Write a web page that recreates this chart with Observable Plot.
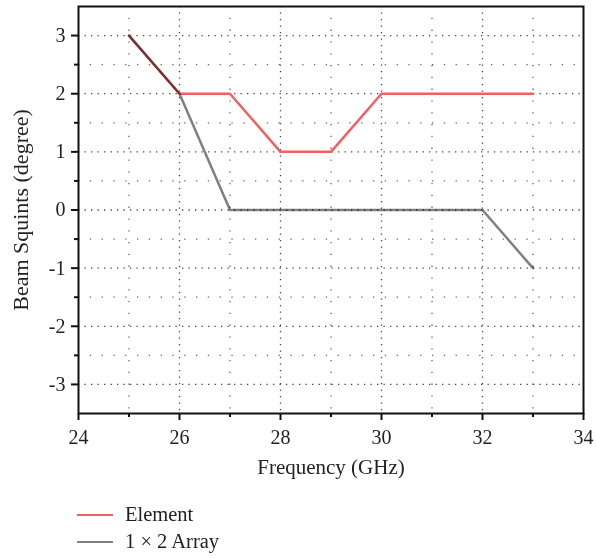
<!DOCTYPE html>
<html><head><meta charset="utf-8">
<script src="https://cdn.jsdelivr.net/npm/d3@7"></script>
<script src="https://cdn.jsdelivr.net/npm/@observablehq/plot@0.6"></script>
<style>
body{margin:0;background:#fff;font-family:"Liberation Serif","DejaVu Serif",serif;}
#legend{margin-left:77px;margin-top:11px;font-size:20.5px;color:#222;}
.item{display:flex;align-items:center;height:27px;}
.sw{width:36px;height:0;border-top:2.5px solid;margin-right:12px;}
</style></head><body>
<div id="chart"></div>
<div id="legend"></div>
<script>
const frequency = [25, 26, 27, 28, 29, 30, 31, 32, 33];
const elementSquint = [3, 2, 2, 1, 1, 2, 2, 2, 2];
const arraySquint = [3, 2, 0, 0, 0, 0, 0, 0, -1];
const seriesNames = ["Element", "1 \u00d7 2 Array"];
const seriesColors = ["#f06060", "#808080"];
const xMajor = [24, 26, 28, 30, 32, 34];
const xMinor = [25, 27, 29, 31, 33];
const yMajor = [-3, -2, -1, 0, 1, 2, 3];
const yMinor = [-2.5, -1.5, -0.5, 0.5, 1.5, 2.5];

const elemData = frequency.map((f, i) => ({f, v: elementSquint[i]}));
const arrData = frequency.map((f, i) => ({f, v: arraySquint[i]}));

const chart = Plot.plot({
  width: 596, height: 490,
  marginLeft: 78, marginRight: 13, marginTop: 6, marginBottom: 77,
  style: {fontFamily: "'Liberation Serif', serif", fontSize: "20px", color: "#222", background: "#fff"},
  x: {domain: [24, 34]},
  y: {domain: [-3.5, 3.5]},
  marks: [
    Plot.ruleX(xMinor, {stroke: "#666", strokeWidth: 1.3, strokeDasharray: "1.3,10.5"}),
    Plot.ruleY(yMinor, {stroke: "#666", strokeWidth: 1.3, strokeDasharray: "1.3,10.5"}),
    Plot.ruleX(xMajor.slice(1, -1), {stroke: "#444", strokeWidth: 1.3, strokeDasharray: "1.3,5.2"}),
    Plot.ruleY(yMajor, {stroke: "#444", strokeWidth: 1.3, strokeDasharray: "1.3,5.2"}),
    Plot.line(elemData, {x: "f", y: "v", stroke: seriesColors[0], strokeWidth: 2.5}),
    Plot.line(arrData, {x: "f", y: "v", stroke: seriesColors[1], strokeWidth: 2.5, mixBlendMode: "multiply"}),
    Plot.frame({stroke: "#111", strokeWidth: 2}),
    Plot.axisX({ticks: xMajor, tickSize: 7, tickPadding: 9, stroke: "#111", strokeWidth: 2, fontSize: 20,
      tickFormat: d => String(d), label: null}),
    Plot.axisX({ticks: [], fontSize: 21, label: "Frequency (GHz)", labelAnchor: "center", labelOffset: 60, labelArrow: "none"}),
    Plot.axisX({ticks: xMinor, tickSize: 4, stroke: "#111", strokeWidth: 2, text: null, label: null}),
    Plot.axisY({ticks: yMajor, tickSize: 7, tickPadding: 6, stroke: "#111", strokeWidth: 2, fontSize: 20,
      tickFormat: d => String(d), label: null}),
    Plot.axisY({ticks: [], fontSize: 22, label: "Beam Squints (degree)", labelAnchor: "center", labelOffset: 66, labelArrow: "none"}),
    Plot.axisY({ticks: yMinor, tickSize: 4, stroke: "#111", strokeWidth: 2, text: null, label: null})
  ]
});
document.getElementById("chart").appendChild(chart);

const legend = document.getElementById("legend");
seriesNames.forEach((n, i) => {
  const it = document.createElement("div");
  it.className = "item";
  const sw = document.createElement("span");
  sw.className = "sw";
  sw.style.borderColor = seriesColors[i];
  const t = document.createElement("span");
  t.textContent = n;
  it.appendChild(sw); it.appendChild(t);
  legend.appendChild(it);
});
</script>
</body></html>
